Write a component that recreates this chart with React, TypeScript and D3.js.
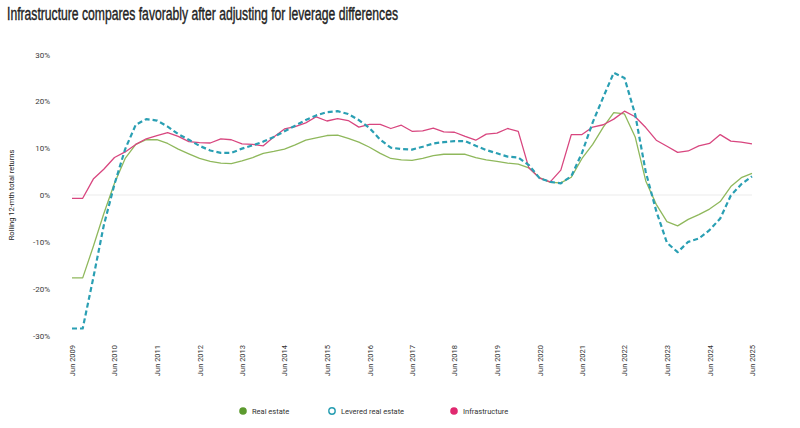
import * as d3 from 'd3'

const realEstate = [
  -17.7, -17.7, -11, -4, 2.5, 7.8, 10.8, 11.8, 11.8, 11, 9.8, 8.8, 7.8, 7.2, 6.8, 6.7,
  7.3, 8, 8.9, 9.3, 9.8, 10.7, 11.7, 12.2, 12.7, 12.8, 12.1, 11.3, 10.2, 8.9, 7.8, 7.5,
  7.4, 7.8, 8.4, 8.7, 8.7, 8.7, 8, 7.5, 7.2, 6.8, 6.6, 5.8, 3.7, 2.7, 2.6, 3.8,
  7.8, 10.8, 14.5, 17.6, 17.3, 12.4, 3, -2, -5.7, -6.6, -5.2, -4.2, -3, -1.4, 1.8, 3.7,
  4.6,
]

const leveredRealEstate = [
  -28.5, -28.5, -17.7, -6.5, 2.3, 9.8, 15, 16.2, 15.9, 14.6, 13, 11.8, 10.5, 9.5, 9, 9,
  9.9, 10.6, 11.4, 12.4, 13.6, 14.8, 16, 17, 17.7, 17.9, 17.3, 16, 14.3, 11.8, 10.1, 9.8,
  9.7, 10.3, 11, 11.3, 11.5, 11.5, 10.5, 9.6, 8.9, 8.2, 8, 6.4, 3.6, 2.8, 2.5, 4,
  9, 15.5, 20.9, 26.1, 25, 17.2, 4.9, -3.4, -10.2, -12.2, -10, -9.3, -7.5, -5, -0.1, 2.3,
  4,
]

const infrastructure = [
  -0.7, -0.7, 3.4, 5.5, 8, 9.2, 10.8, 12, 12.7, 13.3, 12.5, 11.4, 11.2, 11.1, 12, 11.8,
  10.9, 10.8, 10.5, 12.4, 14.1, 14.6, 15.4, 16.7, 15.8, 16.3, 15.9, 14.5, 15.1, 15.1, 14.2, 14.9,
  13.6, 13.7, 14.3, 13.5, 13.4, 12.5, 11.7, 13, 13.2, 14.2, 13.6, 5.8, 3.6, 2.8, 5.3, 12.9,
  12.9, 14.5, 15, 16.2, 17.9, 16.7, 14.4, 11.7, 10.4, 9.1, 9.4, 10.5, 11, 12.9, 11.5, 11.3,
  10.9,
]

const xTickLabels = [
  'Jun 2009', 'Jun 2010', 'Jun 2011', 'Jun 2012', 'Jun 2013', 'Jun 2014', 'Jun 2015', 'Jun 2016',
  'Jun 2017', 'Jun 2018', 'Jun 2019', 'Jun 2020', 'Jun 2021', 'Jun 2022', 'Jun 2023', 'Jun 2024',
  'Jun 2025',
]

const yTicks = [30, 20, 10, 0, -10, -20, -30]

const legendItems = [
  { label: 'Real estate', color: '#5c9a2e', hollow: false, x: 243 },
  { label: 'Levered real estate', color: '#2a9fb3', hollow: true, x: 332 },
  { label: 'Infrastructure', color: '#e0286f', hollow: false, x: 454 },
]

const start = new Date(2009, 5, 1)
const end = new Date(2025, 5, 1)
// quarterly observations, Jun 2009 .. Jun 2025
const quarters = d3.timeMonth.range(start, new Date(2025, 6, 1), 3)
const tickDates = d3.timeMonth.range(start, new Date(2025, 6, 1), 12)

export default function App() {
  const x = d3.scaleTime().domain([start, end]).range([72, 752])
  const y = d3.scaleLinear().domain([-30, 30]).range([335.5, 54.5])

  const line = d3
    .line<number>()
    .x((_, i) => x(quarters[i]))
    .y((d) => y(d))

  const font = 'Roboto, "Liberation Sans", Arial, sans-serif'

  return (
    <svg
      width={800}
      height={428}
      viewBox="0 0 800 428"
      style={{ position: 'absolute', left: 0, top: 0, background: '#fff' }}
    >
      <text
        x={7}
        y={19.5}
        fontFamily='"Liberation Sans Narrow", "Liberation Sans", Arial, sans-serif'
        fontSize={17.5}
        fontWeight={400}
        fill="#222"
        stroke="#222"
        strokeWidth={0.4}
        textLength={391}
        lengthAdjust="spacingAndGlyphs"
      >
        Infrastructure compares favorably after adjusting for leverage differences
      </text>

      {/* zero line */}
      <line x1={x(start)} x2={x(end)} y1={y(0)} y2={y(0)} stroke="#ececec" strokeWidth={1.2} />

      {yTicks.map((t) => (
        <text
          key={t}
          x={50}
          y={y(t) + 3}
          textAnchor="end"
          fontFamily={font}
          fontSize={8}
          fill="#3a3a3a"
        >
          {`${t}%`}
        </text>
      ))}

      <text
        transform={`translate(14,${y(0)}) rotate(-90)`}
        textAnchor="middle"
        fontFamily={font}
        fontSize={7.5}
        fill="#222"
      >
        Rolling 12-mth total returns
      </text>

      {xTickLabels.map((label, i) => (
        <text
          key={label}
          transform={`translate(${x(tickDates[i]) + 3},345) rotate(-90)`}
          textAnchor="end"
          fontFamily={font}
          fontSize={7.5}
          fill="#333"
        >
          {label}
        </text>
      ))}

      <path d={line(realEstate) ?? ''} fill="none" stroke="#8fb85c" strokeWidth={1.3} strokeLinejoin="round" />
      <path d={line(infrastructure) ?? ''} fill="none" stroke="#d8467f" strokeWidth={1.3} strokeLinejoin="round" />
      <path
        d={line(leveredRealEstate) ?? ''}
        fill="none"
        stroke="#2a9fb3"
        strokeWidth={2.2}
        strokeDasharray="5 3"
        strokeLinejoin="round"
      />

      {legendItems.map((item) => (
        <g key={item.label}>
          <circle
            cx={item.x}
            cy={411}
            r={item.hollow ? 3.2 : 3.8}
            fill={item.hollow ? '#fff' : item.color}
            stroke={item.color}
            strokeWidth={item.hollow ? 1.4 : 0}
          />
          <text x={item.x + 9} y={414} fontFamily={font} fontSize={7.5} fill="#333">
            {item.label}
          </text>
        </g>
      ))}
    </svg>
  )
}
